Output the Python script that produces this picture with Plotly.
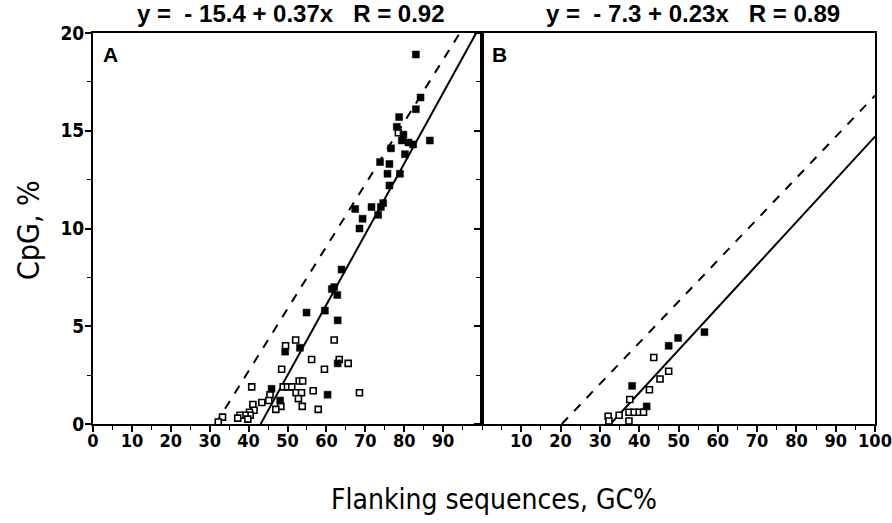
import plotly.graph_objects as go

# ---------------- data ----------------
# Panel A
a_filled_x = [83.0, 84.2, 83.0, 78.7, 78.1, 79.8, 79.4, 81.1, 82.3, 86.6, 80.2, 76.6, 73.8, 76.2,
              75.7, 78.9, 76.2, 74.6, 74.0, 71.6, 67.4, 69.3, 73.3, 68.5, 63.9, 61.4, 62.0, 62.8,
              54.9, 59.6, 62.9, 53.2, 49.4, 62.9, 45.9, 60.3, 48.1]
a_filled_y = [18.9, 16.7, 16.1, 15.7, 15.2, 14.8, 14.5, 14.4, 14.3, 14.5, 13.8, 14.1, 13.4, 13.3,
              12.8, 12.8, 12.2, 11.3, 11.1, 11.1, 11.0, 10.5, 10.7, 10.0, 7.9, 6.9, 7.0, 6.6,
              5.7, 5.8, 5.3, 3.9, 3.7, 3.1, 1.8, 1.5, 1.2]
a_open_x = [78.5, 62.0, 52.1, 49.5, 56.2, 48.5, 59.5, 63.3, 65.6, 68.5, 40.8, 48.9, 50.0, 51.1,
            53.0, 53.9, 52.2, 53.6, 52.8, 56.6, 45.5, 45.2, 43.4, 48.3, 47.0, 53.8, 57.9, 41.1,
            41.4, 40.2, 40.4, 39.1, 37.8, 37.2, 39.8, 33.3, 32.2]
a_open_y = [14.9, 4.3, 4.3, 4.0, 3.3, 2.8, 2.8, 3.3, 3.1, 1.6, 1.9, 1.9, 1.9, 1.9,
            2.2, 2.2, 1.6, 1.6, 1.3, 1.7, 1.5, 1.2, 1.1, 0.9, 0.75, 0.9, 0.75, 1.0,
            0.7, 0.6, 0.45, 0.45, 0.45, 0.3, 0.25, 0.35, 0.1]
a_solid_x = [43.1, 98.5]
a_solid_y = [0, 20]
a_dash_x = [31.5, 94.3]
a_dash_y = [0, 20]

# Panel B
b_filled_x = [47.5, 49.9, 56.6, 38.2, 41.9]
b_filled_y = [4.0, 4.4, 4.7, 1.95, 0.9]
b_open_x = [43.7, 47.5, 45.3, 42.6, 37.6, 37.4, 38.7, 40.0, 41.1, 34.9, 32.1, 32.3, 37.4]
b_open_y = [3.4, 2.7, 2.3, 1.75, 1.25, 0.6, 0.6, 0.6, 0.6, 0.45, 0.4, 0.15, 0.15]
b_solid_x = [32.7, 100]
b_solid_y = [0, 14.7]
b_dash_x = [20.3, 100]
b_dash_y = [0, 16.8]

a_tickvals = [0, 10, 20, 30, 40, 50, 60, 70, 80, 90]
b_tickvals = [10, 20, 30, 40, 50, 60, 70, 80, 90, 100]
y_tickvals = [0, 5, 10, 15, 20]

NB = "\u00a0"
title_a = f"y{NB}={NB*2}-{NB}15.4{NB}+{NB}0.37x{NB*3}R{NB}={NB}0.92"
title_b = f"y{NB}={NB*2}-{NB}7.3{NB}+{NB}0.23x{NB*3}R{NB}={NB}0.89"

# ---------------- figure ----------------
NARROW = "DejaVu Sans Condensed, Liberation Sans Narrow, Arial Narrow, sans-serif"
SANS = "Liberation Sans, Arial, Helvetica, sans-serif"

fig = go.Figure()

def add_panel(xa, ya, fx, fy, ox, oy, sx, sy, dx, dy):
    fig.add_trace(go.Scatter(x=dx, y=dy, mode="lines", xaxis=xa, yaxis=ya,
                             line=dict(color="black", width=2, dash="dash"), showlegend=False))
    fig.add_trace(go.Scatter(x=sx, y=sy, mode="lines", xaxis=xa, yaxis=ya,
                             line=dict(color="black", width=2), showlegend=False))
    fig.add_trace(go.Scatter(x=ox, y=oy, mode="markers", xaxis=xa, yaxis=ya,
                             marker=dict(symbol="square", size=6, color="white",
                                         line=dict(color="black", width=1.6)),
                             showlegend=False))
    fig.add_trace(go.Scatter(x=fx, y=fy, mode="markers", xaxis=xa, yaxis=ya,
                             marker=dict(symbol="square", size=7, color="black",
                                         line=dict(color="black", width=0.5)),
                             showlegend=False))

add_panel("x", "y", a_filled_x, a_filled_y, a_open_x, a_open_y,
          a_solid_x, a_solid_y, a_dash_x, a_dash_y)
add_panel("x2", "y2", b_filled_x, b_filled_y, b_open_x, b_open_y,
          b_solid_x, b_solid_y, b_dash_x, b_dash_y)

# page geometry of the plot area (body margin removed in post_script)
PL, PR, PT, PB = 93, 875, 33, 424
W, H = 892, 523
L, T, R, B = PL, PT, W - PR, H - PB
pw = PR - PL
ph = PB - PT
split = (482 - PL) / pw

def px(xp):
    return (xp - PL) / pw

def py(yp):
    return (PB - yp) / ph

xtickfont = dict(family=NARROW, size=18, color="black", weight="bold")
ytickfont = dict(family=NARROW, size=19, color="black", weight="bold")

xcommon = dict(range=[0, 100], showgrid=False, zeroline=False, showline=True,
               linecolor="black", linewidth=2, mirror=True, ticks="outside",
               ticklen=6, tickwidth=1.5, tickcolor="black", tickfont=xtickfont,
               ticklabeloverflow="allow", automargin=False, ticklabelstandoff=-7,
               minor=dict(dtick=5, ticks="outside", ticklen=4, tickwidth=1.2, tickcolor="black"))
ycommon = dict(range=[0, 20], showgrid=False, zeroline=False, showline=True,
               linecolor="black", linewidth=2, mirror=True, ticks="outside",
               ticklen=6, tickwidth=1.5, tickcolor="black", tickfont=ytickfont,
               tickvals=y_tickvals, automargin=False, ticklabelstandoff=-3,
               minor=dict(dtick=2.5, ticks="outside", ticklen=4, tickwidth=1.2, tickcolor="black"))

fig.update_layout(
    width=W, height=H,
    margin=dict(l=L, r=R, t=T, b=B, pad=0),
    paper_bgcolor="white", plot_bgcolor="white",
    xaxis=dict(domain=[0, split], tickvals=a_tickvals, **xcommon),
    xaxis2=dict(domain=[split, 1], tickvals=b_tickvals, anchor="y2", **xcommon),
    yaxis=dict(domain=[0, 1], anchor="x", **ycommon),
    yaxis2=dict(domain=[0, 1], anchor="x2", showticklabels=False, **ycommon),
)

tfont = dict(family=SANS, size=24, color="black", weight="bold")
ann = [
    dict(text=title_a, x=px(291), y=py(14), font=tfont),
    dict(text=title_b, x=px(693), y=py(14), font=tfont),
    dict(text="A", x=px(101), y=py(55), xanchor="left", font=dict(family=SANS, size=21, color="black", weight="bold")),
    dict(text="B", x=px(490), y=py(55), xanchor="left", font=dict(family=SANS, size=21, color="black", weight="bold")),
    dict(text="CpG, %", x=px(28), y=py(230), textangle=-90, font=dict(family=NARROW, size=30, color="black")),
    dict(text="Flanking sequences, GC%", x=px(494), y=py(499), font=dict(family=NARROW, size=28, color="black")),
]
for a in ann:
    a.setdefault("xanchor", "center")
    a.update(xref="paper", yref="paper", yanchor="middle", showarrow=False)
    fig.add_annotation(**a)

fig.write_html("out.html", config={"displayModeBar": False},
               post_script="document.body.style.margin='0px';")
